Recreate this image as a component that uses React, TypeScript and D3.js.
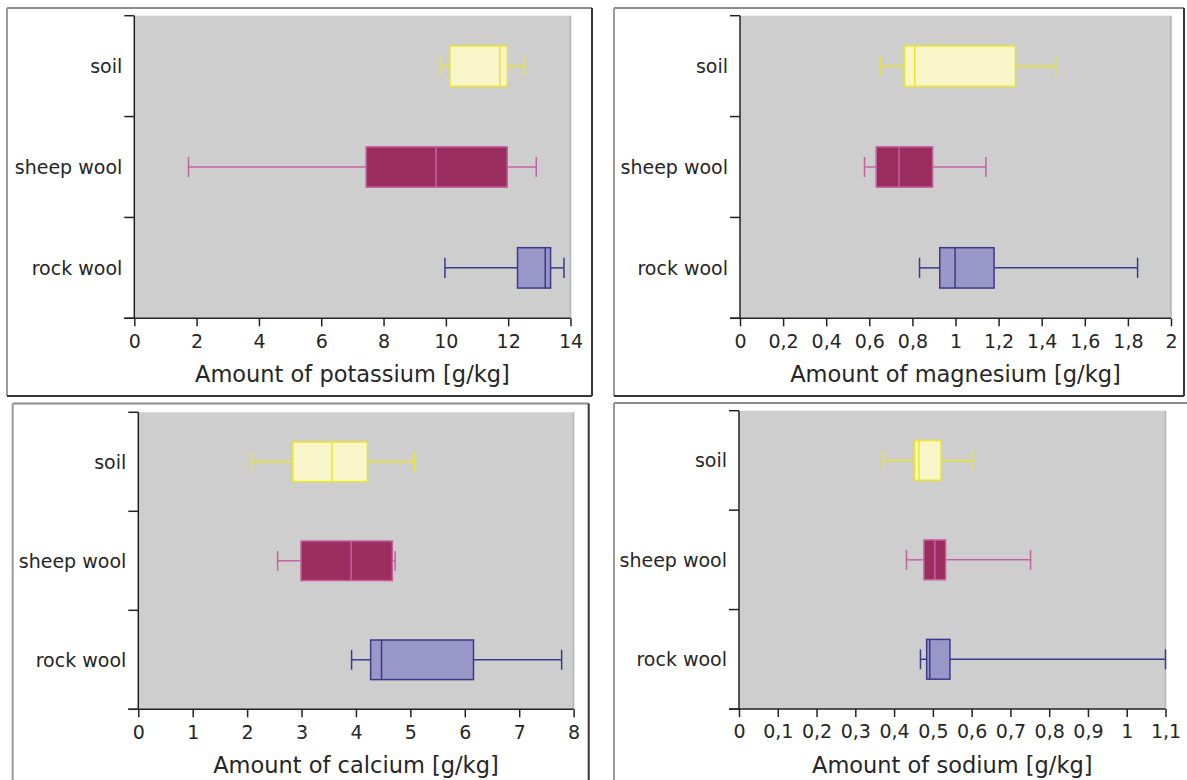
import React, { useEffect, useRef } from "react";
import * as d3 from "d3";

// five-number summaries per category: [low whisker, q1, median, q3, high whisker]
const categories = ["soil", "sheep wool", "rock wool"];

const potassium = [
  [9.85, 10.13, 11.73, 11.97, 12.5],
  [1.74, 7.44, 9.68, 11.97, 12.9],
  [9.97, 12.3, 13.19, 13.36, 13.79],
];
const magnesium = [
  [0.654, 0.764, 0.811, 1.278, 1.465],
  [0.578, 0.632, 0.738, 0.894, 1.141],
  [0.833, 0.927, 0.998, 1.179, 1.845],
];
const calcium = [
  [2.08, 2.84, 3.56, 4.21, 5.08],
  [2.56, 2.99, 3.91, 4.67, 4.72],
  [3.92, 4.27, 4.47, 6.16, 7.78],
];
const sodium = [
  [0.372, 0.453, 0.464, 0.521, 0.604],
  [0.432, 0.477, 0.505, 0.533, 0.752],
  [0.468, 0.484, 0.492, 0.544, 1.1],
];

const titles = [
  "Amount of potassium [g/kg]",
  "Amount of magnesium [g/kg]",
  "Amount of calcium [g/kg]",
  "Amount of sodium [g/kg]",
];
const domains = [[0, 14], [0, 2], [0, 8], [0, 1.1]];
const tickCounts = [7, 10, 8, 11];

const fills = ["#f8f5c9", "#9c2e5f", "#9997c8"];
const strokes = ["#ece52a", "#c562a2", "#3b398a"];

const panels = [
  { data: potassium, frame: [7, 8, 585, 388], plot: [134.3, 570.5, 15.7, 318.3] },
  { data: magnesium, frame: [614, 8, 570, 388], plot: [740, 1171, 15.7, 318.3] },
  { data: calcium, frame: [12.7, 403.5, 576, 420], plot: [138.3, 573.6, 412.3, 709.3] },
  { data: sodium, frame: [614, 403, 600, 420], plot: [739, 1165.5, 410.7, 709] },
];

const font = "'DejaVu Sans', Verdana, sans-serif";
const textColor = "#262626";

const fmt = (d: number) => {
  const s = d3.format("~g")(+d.toFixed(3));
  return s.replace(".", ",");
};

export default function App() {
  const ref = useRef<SVGSVGElement | null>(null);

  useEffect(() => {
    const svg = d3.select(ref.current);
    svg.selectAll("*").remove();

    panels.forEach((p, pi) => {
      const [fx, fy, fw, fh] = p.frame;
      const [x0, x1, y0, y1] = p.plot;
      const g = svg.append("g");

      // frame: light top/left, dark right/bottom
      g.append("line").attr("x1", fx).attr("y1", fy).attr("x2", fx + fw).attr("y2", fy)
        .attr("stroke", "#8c8c8c").attr("stroke-width", 2);
      g.append("line").attr("x1", fx).attr("y1", fy).attr("x2", fx).attr("y2", fy + fh)
        .attr("stroke", "#9a9a9a").attr("stroke-width", 2);
      g.append("line").attr("x1", fx + fw).attr("y1", fy).attr("x2", fx + fw).attr("y2", fy + fh)
        .attr("stroke", "#363636").attr("stroke-width", 2);
      g.append("line").attr("x1", fx).attr("y1", fy + fh).attr("x2", fx + fw).attr("y2", fy + fh)
        .attr("stroke", "#363636").attr("stroke-width", 2);

      const x = d3.scaleLinear().domain(domains[pi]).range([x0, x1]);
      const y = d3.scaleBand().domain(categories).range([y0, y1]).padding(0);
      const bw = y.bandwidth();

      // plot background
      g.append("rect").attr("x", x0).attr("y", y0).attr("width", x1 - x0).attr("height", y1 - y0)
        .attr("fill", "#cecece");
      g.append("line").attr("x1", x1).attr("y1", y0).attr("x2", x1).attr("y2", y1)
        .attr("stroke", "#b3b3bb").attr("stroke-width", 1.5);

      // boxes
      categories.forEach((c, ci) => {
        const [lo, q1, med, q3, hi] = p.data[ci];
        const cy = (y(c) as number) + bw / 2;
        const bh = bw * 0.4;
        const cap = bh / 2;
        const bg = g.append("g");
        bg.append("line").attr("x1", x(lo)).attr("x2", x(q1)).attr("y1", cy).attr("y2", cy)
          .attr("stroke", strokes[ci]).attr("stroke-width", 1.5);
        bg.append("line").attr("x1", x(q3)).attr("x2", x(hi)).attr("y1", cy).attr("y2", cy)
          .attr("stroke", strokes[ci]).attr("stroke-width", 1.5);
        [lo, hi].forEach((v) => {
          bg.append("line").attr("x1", x(v)).attr("x2", x(v)).attr("y1", cy - cap / 2).attr("y2", cy + cap / 2)
            .attr("stroke", strokes[ci]).attr("stroke-width", 1.5);
        });
        bg.append("rect").attr("x", x(q1)).attr("y", cy - bh / 2).attr("width", x(q3) - x(q1)).attr("height", bh)
          .attr("fill", fills[ci]).attr("stroke", strokes[ci]).attr("stroke-width", 1.5);
        bg.append("line").attr("x1", x(med)).attr("x2", x(med)).attr("y1", cy - bh / 2).attr("y2", cy + bh / 2)
          .attr("stroke", strokes[ci]).attr("stroke-width", 1.5);
      });

      // y axis
      g.append("line").attr("x1", x0).attr("x2", x0).attr("y1", y0).attr("y2", y1)
        .attr("stroke", "#222").attr("stroke-width", 1.5);
      const bounds = categories.map((c) => y(c) as number).concat([y1]);
      bounds.forEach((b) => {
        g.append("line").attr("x1", x0 - 10).attr("x2", x0).attr("y1", b).attr("y2", b)
          .attr("stroke", "#222").attr("stroke-width", 1.5);
      });
      categories.forEach((c) => {
        g.append("text").attr("x", x0 - 12).attr("y", (y(c) as number) + bw / 2).attr("dy", "0.36em")
          .attr("text-anchor", "end").attr("font-family", font).attr("font-size", 19)
          .attr("fill", textColor).text(c);
      });

      // x axis
      g.append("line").attr("x1", x0 - 10).attr("x2", x1).attr("y1", y1).attr("y2", y1)
        .attr("stroke", "#222").attr("stroke-width", 1.5);
      const ax = g.append("g").attr("transform", `translate(0,${y1})`)
        .call(d3.axisBottom(x).ticks(tickCounts[pi]).tickSizeInner(8).tickSizeOuter(0)
          .tickPadding(8).tickFormat((d) => fmt(+d)));
      ax.select(".domain").remove();
      ax.selectAll(".tick line").attr("stroke", "#222").attr("stroke-width", 1.5);
      ax.selectAll(".tick text").attr("font-family", font).attr("font-size", 19).attr("fill", textColor);

      g.append("text").attr("x", (x0 + x1) / 2).attr("y", y1 + 63.5).attr("text-anchor", "middle")
        .attr("font-family", font).attr("font-size", 22.5).attr("fill", textColor).text(titles[pi]);
    });
  }, []);

  return (
    <svg ref={ref} width={1187} height={780}
      style={{ position: "absolute", left: 0, top: 0, background: "#fff" }} />
  );
}
